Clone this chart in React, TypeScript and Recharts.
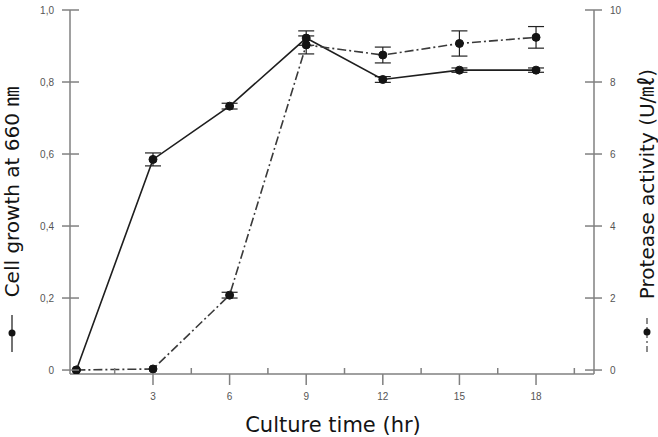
import React from 'react';
import { LineChart, Line, XAxis, YAxis, ErrorBar, Label } from 'recharts';

const times = [0, 3, 6, 9, 12, 15, 18];
const cellGrowth = [0, 0.585, 0.733, 0.922, 0.807, 0.833, 0.833];
const cellGrowthErr = [0, 0.018, 0.008, 0.02, 0.008, 0.006, 0.006];
const protease = [0, 0.03, 2.08, 9.03, 8.75, 9.07, 9.24];
const proteaseErr = [0, 0, 0.08, 0.25, 0.22, 0.35, 0.3];

const xTicks = [1.5, 3, 4.5, 6, 7.5, 9, 10.5, 12, 13.5, 15, 16.5, 18, 19.5];
const xMajor = [3, 6, 9, 12, 15, 18];
const leftTicks = [0, 0.2, 0.4, 0.6, 0.8, 1.0];
const rightTicks = [0, 2, 4, 6, 8, 10];

const data = times.map((t, i) => ({
  t,
  cell: cellGrowth[i],
  cellErr: cellGrowthErr[i],
  prot: protease[i],
  protErr: proteaseErr[i],
}));

const AXIS = '#808080';
const TICKTXT = '#555';
const FONT = '"Liberation Sans", Arial, sans-serif';
const LABELFONT = '"DejaVu Sans", "Noto Sans CJK KR", sans-serif';
const INK = '#141414';

const XTick = (props: any) => {
  const { x, y, payload } = props;
  const v = payload.value;
  if (xMajor.includes(v)) {
    return (
      <g>
        <line x1={x} x2={x} y1={y} y2={y + 11} stroke={AXIS} strokeWidth={1.5} />
        <text x={x} y={y + 26} textAnchor="middle" fontSize={10} fill={TICKTXT} fontFamily={FONT}>
          {v}
        </text>
      </g>
    );
  }
  return <line x1={x} x2={x} y1={y} y2={y - 6} stroke={AXIS} strokeWidth={1.5} />;
};

const fmtLeft = (v: number) => (v === 0 ? '0' : v.toFixed(1).replace('.', ','));

const LeftTick = (props: any) => {
  const { x, y, payload } = props;
  return (
    <g>
      <line x1={x - 8} x2={x + 9} y1={y} y2={y} stroke={AXIS} strokeWidth={1.5} />
      <text x={x - 16} y={y + 4} textAnchor="end" fontSize={10} fill={TICKTXT} fontFamily={FONT}>
        {fmtLeft(payload.value)}
      </text>
    </g>
  );
};

const RightTick = (props: any) => {
  const { x, y, payload } = props;
  return (
    <g>
      <line x1={x - 9} x2={x + 8} y1={y} y2={y} stroke={AXIS} strokeWidth={1.5} />
      <text x={x + 16} y={y + 4} textAnchor="start" fontSize={10} fill={TICKTXT} fontFamily={FONT}>
        {payload.value}
      </text>
    </g>
  );
};

const LeftLabel = () => (
  <g>
    <text
      x={12}
      y={192}
      transform="rotate(-90 12 192)"
      textAnchor="middle"
      dominantBaseline="central"
      fontSize={20}
      fill={INK}
      fontFamily={LABELFONT}
    >
      Cell growth at 660 ㎚
    </text>
    <line x1={12} x2={12} y1={315} y2={352} stroke="#444" strokeWidth={1.5} />
    <circle cx={12} cy={333} r={3.5} fill={INK} />
  </g>
);

const RightLabel = () => (
  <g>
    <text
      x={647}
      y={184}
      transform="rotate(-90 647 184)"
      textAnchor="middle"
      dominantBaseline="central"
      fontSize={20}
      fill={INK}
      fontFamily={LABELFONT}
    >
      Protease activity (U/㎖)
    </text>
    <line x1={647} x2={647} y1={318} y2={352} stroke="#666" strokeWidth={1.5} strokeDasharray="6 3 2 3" />
    <circle cx={647} cy={332} r={3.5} fill={INK} />
  </g>
);

const BottomLabel = () => (
  <text x={333} y={425} textAnchor="middle" dominantBaseline="central" fontSize={21} fill={INK} fontFamily={LABELFONT}>
    Culture time (hr)
  </text>
);

export default function App() {
  return (
    <div style={{ position: 'absolute', left: 0, top: 0, background: '#fff' }}>
      <LineChart width={658} height={437} data={data} margin={{ top: 10, right: 0, bottom: 0, left: 0 }}>
        <XAxis
          dataKey="t"
          type="number"
          domain={[-0.25, 20.27]}
          ticks={xTicks}
          interval={0}
          tick={<XTick />}
          tickLine={false}
          tickSize={0}
          tickMargin={0}
          height={63}
          stroke={AXIS}
          axisLine={{ stroke: AXIS, strokeWidth: 1.5 }}
          allowDataOverflow
        >
          <Label content={<BottomLabel />} />
        </XAxis>
        <YAxis
          yAxisId="left"
          orientation="left"
          width={70}
          domain={[-0.011, 1]}
          ticks={leftTicks}
          interval={0}
          tick={<LeftTick />}
          tickLine={false}
          tickSize={0}
          tickMargin={0}
          axisLine={{ stroke: AXIS, strokeWidth: 1.5 }}
          allowDataOverflow
        >
          <Label content={<LeftLabel />} />
        </YAxis>
        <YAxis
          yAxisId="right"
          orientation="right"
          width={64}
          domain={[-0.11, 10]}
          ticks={rightTicks}
          interval={0}
          tick={<RightTick />}
          tickLine={false}
          tickSize={0}
          tickMargin={0}
          axisLine={{ stroke: AXIS, strokeWidth: 1.5 }}
          allowDataOverflow
        >
          <Label content={<RightLabel />} />
        </YAxis>
        <Line
          yAxisId="left"
          dataKey="cell"
          stroke="#1e1e1e"
          strokeWidth={1.6}
          dot={{ r: 4, fill: INK, stroke: INK, strokeWidth: 1 }}
          isAnimationActive={false}
        >
          <ErrorBar dataKey="cellErr" direction="y" width={8} stroke="#222" strokeWidth={1.2} />
        </Line>
        <Line
          yAxisId="right"
          dataKey="prot"
          stroke="#3a3a3a"
          strokeWidth={1.6}
          strokeDasharray="9 3 2 3"
          dot={{ r: 4, fill: INK, stroke: INK, strokeWidth: 1, strokeDasharray: '' }}
          isAnimationActive={false}
        >
          <ErrorBar dataKey="protErr" direction="y" width={8} stroke="#222" strokeWidth={1.2} />
        </Line>
      </LineChart>
    </div>
  );
}
